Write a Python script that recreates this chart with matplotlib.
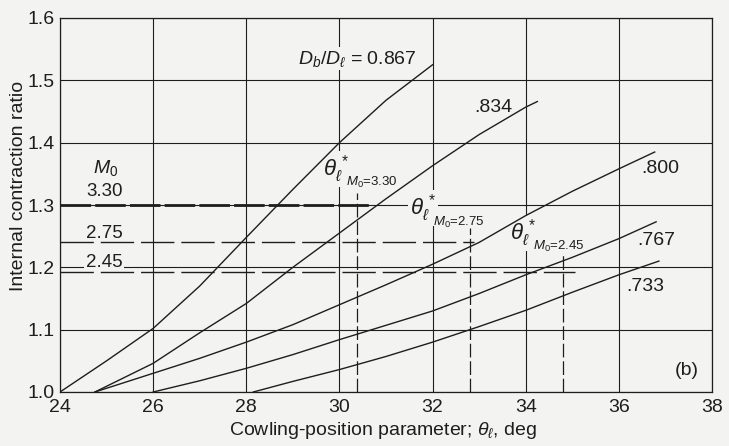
import numpy as np
import matplotlib.pyplot as plt

plt.rcParams['font.family'] = ['Liberation Sans', 'DejaVu Sans']
plt.rcParams['mathtext.fontset'] = 'custom'
plt.rcParams['mathtext.rm'] = 'Liberation Sans'
plt.rcParams['mathtext.it'] = 'Liberation Sans:italic'
plt.rcParams['mathtext.bf'] = 'Liberation Sans:bold'

# curves D_b/D_l
ratio_labels = ['0.867', '.834', '.800', '.767', '.733']
x_867 = [24, 25, 26, 27, 28, 29, 30, 31, 32]
y_867 = [1.0, 1.05, 1.102, 1.17, 1.248, 1.325, 1.40, 1.468, 1.525]
x_834 = [24.75, 26, 27, 28, 29, 30, 31, 32, 33, 34, 34.25]
y_834 = [1.0, 1.046, 1.095, 1.142, 1.2, 1.255, 1.31, 1.363, 1.413, 1.457, 1.466]
x_800 = [24.75, 26, 27, 28, 29, 30, 31, 32, 33, 34, 35, 36, 36.77]
y_800 = [1.0, 1.03, 1.054, 1.08, 1.108, 1.14, 1.172, 1.205, 1.24, 1.283, 1.322, 1.358, 1.385]
x_767 = [26, 27, 28, 29, 30, 31, 32, 33, 34, 35, 36, 36.8]
y_767 = [1.0, 1.018, 1.038, 1.06, 1.084, 1.107, 1.13, 1.158, 1.188, 1.216, 1.246, 1.273]
x_733 = [28.15, 29, 30, 31, 32, 33, 34, 35, 36, 36.86]
y_733 = [1.0, 1.017, 1.036, 1.057, 1.08, 1.105, 1.131, 1.16, 1.188, 1.21]

# free-stream Mach number lines
mach_labels = ['3.30', '2.75', '2.45']
mach_ratio = [1.30, 1.24, 1.193]
mach_line_end = [30.65, 32.9, 35.05]
mach_theta = [30.37, 32.8, 34.8]
mach_theta_top = [1.32, 1.263, 1.225]

x_ticks = [24, 26, 28, 30, 32, 34, 36, 38]
y_ticks = [1.0, 1.1, 1.2, 1.3, 1.4, 1.5, 1.6]

bg = '#f3f3f1'
ink = '#1e1e1e'

fig = plt.figure(figsize=(7.29, 4.46), dpi=100, facecolor=bg)
ax = fig.add_axes([60/729, 1 - 392/446, 652/729, 374/446])
ax.set_facecolor(bg)
ax.set_xlim(24, 38)
ax.set_ylim(1.0, 1.6)
ax.set_xticks(x_ticks)
ax.set_xticklabels([str(t) for t in x_ticks])
ax.set_yticks(y_ticks)
ax.set_yticklabels([f'{t:.1f}' for t in y_ticks])
ax.set_axisbelow(True)
ax.grid(True, color=ink, lw=0.8)
ax.tick_params(length=0, labelsize=14, colors=ink)
ax.tick_params(axis='x', pad=5)
ax.tick_params(axis='y', pad=4)
for s in ax.spines.values():
    s.set_color(ink)
    s.set_linewidth(0.9)

curves = [(x_867, y_867), (x_834, y_834), (x_800, y_800), (x_767, y_767), (x_733, y_733)]
for xs, ys in curves:
    ax.plot(xs, ys, color=ink, lw=1.0, zorder=3)

mach_lw = [2.0, 1.0, 1.0]
mach_dash = [(11, 1.5), (24, 5), (24, 5)]
for r, end, th, top, lw, d in zip(mach_ratio, mach_line_end, mach_theta, mach_theta_top, mach_lw, mach_dash):
    ax.plot([24, end], [r, r], color=ink, lw=lw, dashes=d, zorder=3)
    ax.plot([th, th], [1.0, top], color=ink, lw=0.9, dashes=(11, 3), zorder=3)

box = dict(boxstyle='square,pad=0.1', fc=bg, ec='none')

# curve labels
ax.text(29.1, 1.535, r'$D_b/D_\ell$ = ' + ratio_labels[0], fontsize=14, ha='left', va='center',
        color=ink, bbox=box, zorder=2.5)
ratio_pos = [(33.3, 1.457), (36.88, 1.359), (36.8, 1.243), (36.57, 1.169)]
for lab, (px, py) in zip(ratio_labels[1:], ratio_pos):
    ax.text(px, py, lab, fontsize=14, ha='center', va='center', color=ink, bbox=box, zorder=2.5)

ax.text(37.46, 1.035, '(b)', fontsize=14, ha='center', va='center', color=ink, bbox=box, zorder=2.5)

# Mach number labels on the left
ax.text(24.97, 1.36, r'$M_0$', fontsize=14, ha='center', va='center', color=ink, bbox=box, zorder=2.5)
mach_label_y = [1.321, 1.254, 1.207]
for lab, ly in zip(mach_labels, mach_label_y):
    ax.text(24.95, ly, lab, fontsize=13.5, ha='center', va='center', color=ink, bbox=box, zorder=2.5)

# theta* labels
theta_pos = [(29.64, 1.348), (31.51, 1.285), (33.66, 1.245)]
for lab, (px, py) in zip(mach_labels, theta_pos):
    ax.text(px, py, r'$\theta_\ell^{\,*}$', fontsize=16, ha='left', va='baseline',
            color=ink, bbox=box, zorder=2.5)
    ax.annotate(r'$M_0$=' + lab, (px, py), xytext=(16.5, -8), textcoords='offset points',
                fontsize=9.5, ha='left', va='baseline', color=ink, zorder=2.6)

ax.set_xlabel(r'Cowling-position parameter; $\theta_\ell$, deg', fontsize=14, color=ink)
ax.xaxis.set_label_coords(0.495, -0.075)
ax.set_ylabel('Internal contraction ratio', fontsize=14, color=ink)
ax.yaxis.set_label_coords(-0.05, 0.55)

fig.savefig('out.png', dpi=100, facecolor=bg)
